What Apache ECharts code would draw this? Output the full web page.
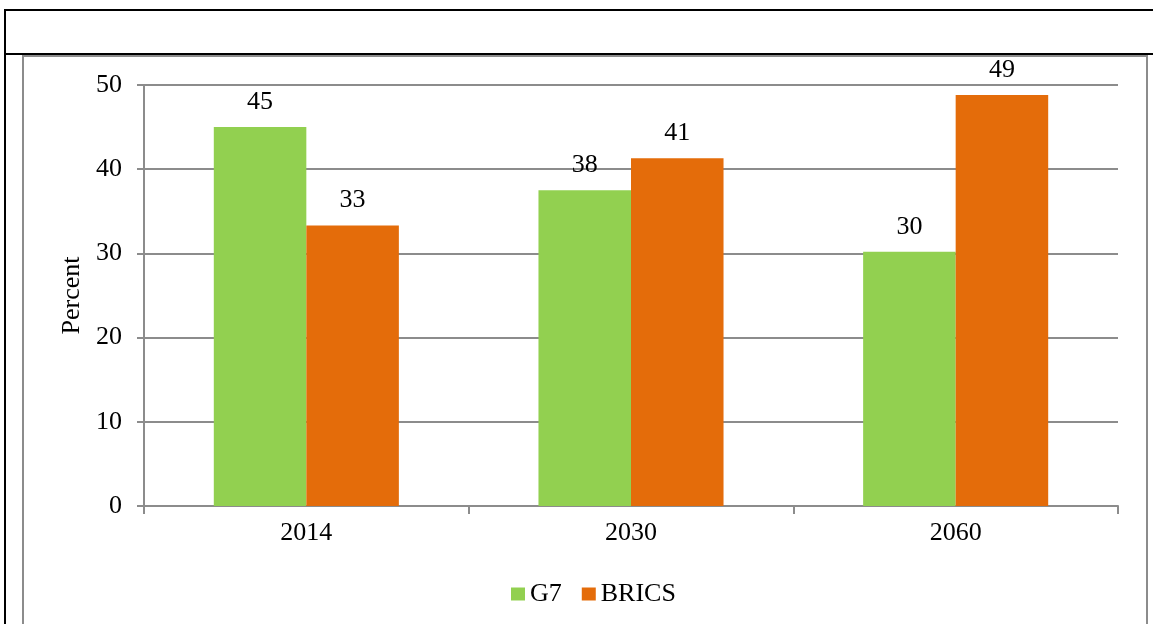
<!DOCTYPE html>
<html>
<head>
<meta charset="utf-8">
<script src="https://cdn.jsdelivr.net/npm/echarts@6/dist/echarts.min.js"></script>
<style>
html,body{margin:0;padding:0;background:#fff;}
#chart{width:1153px;height:624px;}
</style>
</head>
<body>
<div id="chart"></div>
<script>
var categories = ['2014', '2030', '2060'];
var g7Values = [45.0, 37.5, 30.2];
var bricsValues = [33.3, 41.3, 48.8];
var yTicks = { min: 0, max: 50, interval: 10 };

var FONT = '"Liberation Serif", "Times New Roman", serif';
var GRAY = '#8c8c8c';

var chart = echarts.init(document.getElementById('chart'));
var labelOpt = {
  show: true,
  position: 'top',
  distance: 12,
  color: '#000',
  fontFamily: FONT,
  fontSize: 26,
  formatter: function (p) { return Math.round(p.value); }
};
chart.setOption({
  animation: false,
  backgroundColor: '#fff',
  graphic: [
    { type: 'line', shape: { x1: 5, y1: 10, x2: 1153, y2: 10 }, style: { stroke: '#000', lineWidth: 2 } },
    { type: 'line', shape: { x1: 5, y1: 54, x2: 1153, y2: 54 }, style: { stroke: '#000', lineWidth: 2 } },
    { type: 'line', shape: { x1: 5, y1: 9, x2: 5, y2: 624 }, style: { stroke: '#000', lineWidth: 2 } },
    { type: 'polyline', shape: { points: [[23, 624], [23, 56], [1147, 56], [1147, 624]] }, style: { stroke: GRAY, lineWidth: 2, fill: null } }
  ],
  grid: { left: 144, right: 35, top: 85, bottom: 118, containLabel: false },
  legend: {
    data: ['G7', 'BRICS'],
    bottom: 12,
    left: 506,
    icon: 'rect',
    itemWidth: 14,
    itemHeight: 13,
    itemGap: 20,
    textStyle: { fontFamily: FONT, fontSize: 26, color: '#000' }
  },
  xAxis: {
    type: 'category',
    data: categories,
    axisLine: { show: true, lineStyle: { color: GRAY, width: 2 } },
    axisTick: { show: true, alignWithLabel: false, length: 8, lineStyle: { color: GRAY, width: 2 } },
    axisLabel: { color: '#000', fontFamily: FONT, fontSize: 26, margin: 14 }
  },
  yAxis: {
    type: 'value',
    min: yTicks.min,
    max: yTicks.max,
    interval: yTicks.interval,
    name: 'Percent',
    nameLocation: 'middle',
    nameGap: 58,
    nameRotate: 90,
    nameTextStyle: { color: '#000', fontFamily: FONT, fontSize: 26 },
    axisLine: { show: true, lineStyle: { color: GRAY, width: 2 } },
    axisTick: { show: true, inside: false, length: 7, lineStyle: { color: GRAY, width: 2 } },
    axisLabel: { color: '#000', fontFamily: FONT, fontSize: 26, margin: 22 },
    splitLine: { show: true, lineStyle: { color: GRAY, width: 2 } }
  },
  series: [
    {
      name: 'G7', type: 'bar', data: g7Values,
      itemStyle: { color: '#92D050' },
      barGap: '0%', barCategoryGap: '43%',
      label: labelOpt
    },
    {
      name: 'BRICS', type: 'bar', data: bricsValues,
      itemStyle: { color: '#E46C0A' },
      barGap: '0%', barCategoryGap: '43%',
      label: labelOpt
    }
  ]
});
</script>
</body>
</html>
